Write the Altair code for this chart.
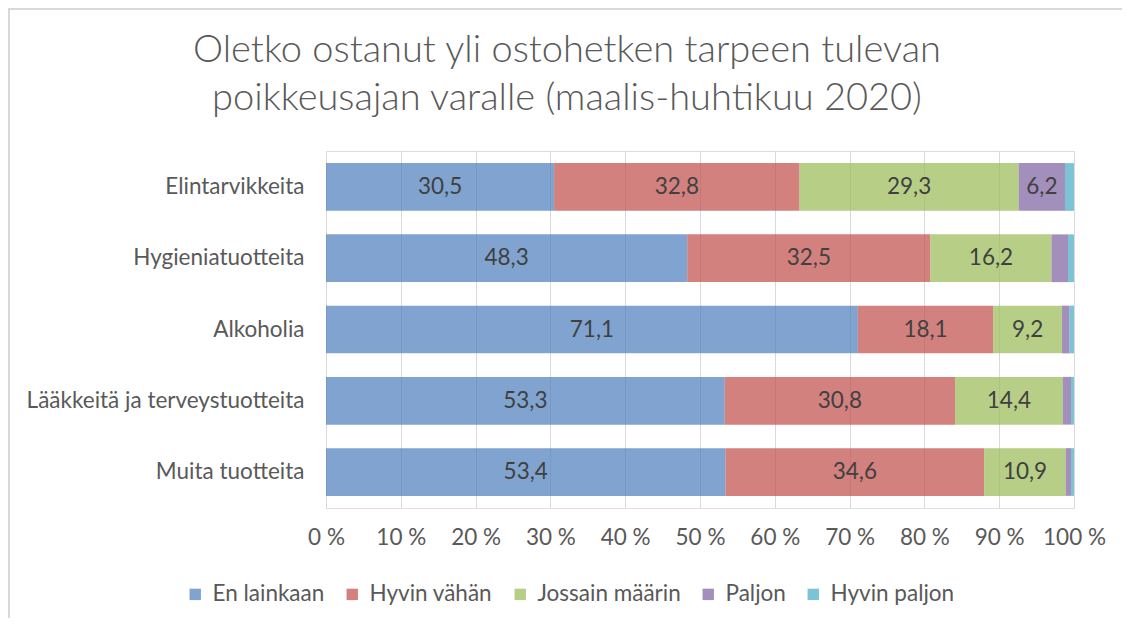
import altair as alt
import pandas as pd

categories = ["Elintarvikkeita", "Hygieniatuotteita", "Alkoholia",
              "Lääkkeitä ja terveystuotteita", "Muita tuotteita"]
series = ["En lainkaan", "Hyvin vähän", "Jossain määrin", "Paljon", "Hyvin paljon"]
en_lainkaan = [30.5, 48.3, 71.1, 53.3, 53.4]
hyvin_vahan = [32.8, 32.5, 18.1, 30.8, 34.6]
jossain = [29.3, 16.2, 9.2, 14.4, 10.9]
paljon = [6.2, 2.2, 1.0, 1.1, 0.7]
hyvin_paljon = [1.2, 0.8, 0.6, 0.4, 0.4]
colors = ["#4F81BD", "#C0504D", "#9BBB59", "#8064A2", "#4BACC6"]

vals = [en_lainkaan, hyvin_vahan, jossain, paljon, hyvin_paljon]
rows = []
for si, s in enumerate(series):
    for ci, c in enumerate(categories):
        rows.append({"cat": c, "series": s, "ord": si, "value": vals[si][ci]})
df = pd.DataFrame(rows)

FONT = "Lato"
GREY = "#595959"
FS = 22.5

base = alt.Chart(df).encode(
    y=alt.Y("cat:N", sort=categories, title=None,
            scale=alt.Scale(paddingInner=0.33, paddingOuter=0.17),
            axis=alt.Axis(domain=False, ticks=False, labelFontSize=FS, labelLimit=400,
                          labelColor=GREY, labelFont=FONT, labelPadding=22)),
)

bars = base.mark_bar(opacity=0.72).encode(
    x=alt.X("value:Q", stack="zero", title=None,
            scale=alt.Scale(domain=[0, 100]),
            axis=alt.Axis(values=list(range(0, 101, 10)), labelExpr="datum.value + ' %'",
                          domain=False, ticks=False, grid=True, gridColor="#D9D9D9",
                          labelFlush=False, labelOverlap=False, labelBound=False,
                          labelFontSize=FS, labelColor=GREY, labelFont=FONT,
                          labelPadding=18)),
    color=alt.Color("series:N", sort=series,
                    scale=alt.Scale(domain=series, range=colors),
                    legend=alt.Legend(title=None, orient="none", direction="horizontal",
                                      legendX=-142, legendY=432, symbolType="square",
                                      symbolSize=130, symbolOpacity=0.72,
                                      symbolStrokeWidth=0, labelFontSize=FS,
                                      labelColor=GREY, labelFont=FONT, labelLimit=300,
                                      columnPadding=16, labelOffset=6)),
    order=alt.Order("ord:Q"),
)

labels = base.transform_window(
    cum="sum(value)", groupby=["cat"], sort=[alt.SortField("ord")]
).transform_calculate(
    mid="datum.cum - datum.value / 2",
    lab="replace(format(datum.value, '.1f'), '.', ',')"
).transform_filter("datum.value > 5").mark_text(
    fontSize=FS, color="#404040", font=FONT
).encode(
    x=alt.X("mid:Q"),
    text="lab:N",
)

frame_df = pd.DataFrame({"k": [0]})
frame_left = alt.Chart(frame_df).mark_rule(color="#D9D9D9", strokeWidth=2).encode(
    x=alt.value(-317), y=alt.value(-142), y2=alt.value(470))
frame_top = alt.Chart(frame_df).mark_rule(color="#D9D9D9", strokeWidth=2).encode(
    x=alt.value(-318), x2=alt.value(800), y=alt.value(-142))

chart = alt.layer(frame_left, frame_top, bars, labels).properties(
    width=748, height=357,
    autosize=alt.AutoSizeParams(type="none"),
    padding={"left": 318, "top": 143, "right": 48, "bottom": 110},
    title=alt.TitleParams(
        ["Oletko ostanut yli ostohetken tarpeen tulevan",
         "poikkeusajan varalle (maalis-huhtikuu 2020)"],
        fontSize=38, font=FONT, fontWeight=300, color=GREY,
        anchor="middle", dx=-133, offset=-110, lineHeight=48),
).configure_view(stroke=None).configure(background="white")

chart.save("out.html", embed_options={"renderer": "svg", "actions": False})
